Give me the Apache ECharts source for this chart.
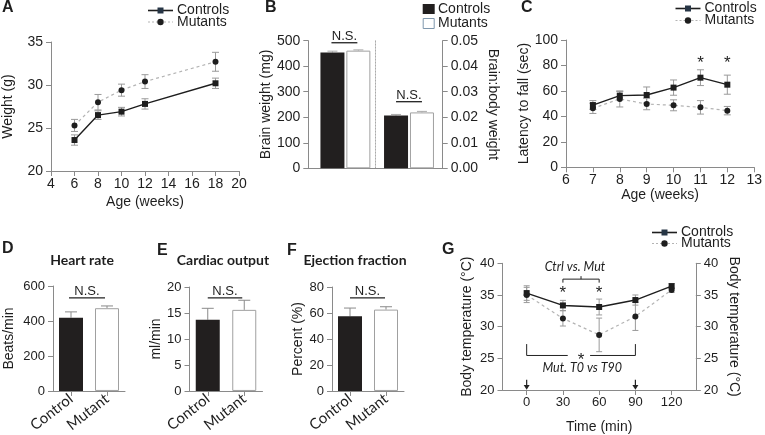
<!DOCTYPE html>
<html><head><meta charset="utf-8">
<script src="https://cdn.jsdelivr.net/npm/echarts@6/dist/echarts.min.js"></script>
<style>html,body{margin:0;padding:0;background:#fff}#c{width:765px;height:435px}</style>
</head><body><div id="c"></div>
<script>
// ---------------- DATA ----------------
// A: body weight
const weeksA = [6, 8, 10, 12, 18];
const weightControls = [23.6, 26.5, 26.9, 27.8, 30.2];
const weightControlsErr = [0.6, 0.5, 0.5, 0.6, 0.6];
const weightMutants = [25.3, 28.0, 29.4, 30.4, 32.7];
const weightMutantsErr = [0.7, 0.9, 0.7, 0.8, 1.1];
// B: brain weight (mg) and brain:body weight ratio
const brainCategories = ['Brain weight', 'Brain:body weight'];
const brainControls = [454, 0.0207];
const brainControlsErr = [5, 0.0004];
const brainMutants = [461, 0.0219];
const brainMutantsErr = [3, 0.0004];
// C: rotarod latency
const weeksC = [7, 8, 9, 10, 11, 12];
const latencyControls = [48.9, 56.3, 56.8, 62.6, 70.4, 64.9];
const latencyControlsErr = [3.5, 3.3, 6.3, 6.0, 6.2, 7.5];
const latencyMutants = [46.3, 53.7, 49.7, 48.7, 47.1, 44.5];
const latencyMutantsErr = [4.0, 6.3, 4.5, 4.3, 5.3, 3.3];
const latencySignificant = [11, 12];
// D-F: cardiac
const groups = ['Control', 'Mutant'];
const heartRate = [419, 473];
const heartRateErr = [33, 13];
const cardiacOutput = [13.7, 15.6];
const cardiacOutputErr = [2.2, 1.85];
const ejectionFraction = [57.4, 62.6];
const ejectionFractionErr = [6.4, 2.2];
// G: body temperature
const timeG = [0, 30, 60, 90, 120];
const timeTicks = [0, 30, 60, 90, 120];
const tempControls = [35.3, 33.35, 33.1, 34.2, 36.4];
const tempControlsErr = [1.15, 0.8, 1.25, 0.8, 0.4];
const tempMutants = [35.0, 31.3, 28.7, 31.6, 35.8];
const tempMutantsErr = [1.2, 1.2, 2.65, 2.2, 0.4];
const tempSignificant = [30, 60];

// ---------------- STYLE ----------------
const FONT = "'Liberation Sans', Arial, sans-serif";
const AX = '#8a8a8a', TXT = '#1e1e1e', ERR = '#9a9a9a';
const CTRL = '#1e1e1e';
const ctrlBar = {color: '#221f1f'};
const mutBar = {color: '#ffffff', borderColor: '#a0a0a0', borderWidth: 1};

function merge(a, b) {
  const out = Object.assign({}, a);
  for (const k in b) {
    if (b[k] && typeof b[k] === 'object' && !Array.isArray(b[k]) && a[k] && typeof a[k] === 'object' && !Array.isArray(a[k])) out[k] = merge(a[k], b[k]);
    else out[k] = b[k];
  }
  return out;
}
function axis(fs, extra) {
  return merge({
    axisLine: {show: true, onZero: false, lineStyle: {color: AX, width: 1}},
    axisTick: {show: true, inside: false, length: 5, lineStyle: {color: AX, width: 1}},
    splitLine: {show: false},
    axisLabel: {color: TXT, fontFamily: FONT, fontSize: fs},
    nameLocation: 'middle',
    nameTextStyle: {color: TXT, fontFamily: FONT, fontSize: 14}
  }, extra);
}

function errSeries(xi, yi, xs, ys, es, opt) {
  opt = opt || {};
  const cap = opt.cap || 3, upOnly = !!opt.upOnly, dx = opt.dx || 0;
  return {
    type: 'custom', xAxisIndex: xi, yAxisIndex: yi, z: opt.z || 2, silent: true,
    data: xs.map((x, i) => [x, ys[i], es[i]]),
    encode: {x: 0, y: 1},
    renderItem: function (params, api) {
      const x = api.value(0), y = api.value(1), e = api.value(2);
      const t = api.coord([x, y + e]);
      const b = api.coord([x, upOnly ? y : y - e]);
      const cx = t[0] + dx;
      const st = {stroke: opt.color || ERR, lineWidth: 1};
      const ch = [
        {type: 'line', shape: {x1: cx, y1: t[1], x2: cx, y2: b[1]}, style: st},
        {type: 'line', shape: {x1: cx - cap, y1: t[1], x2: cx + cap, y2: t[1]}, style: st}
      ];
      if (!upOnly) ch.push({type: 'line', shape: {x1: cx - cap, y1: b[1], x2: cx + cap, y2: b[1]}, style: st});
      return {type: 'group', children: ch};
    }
  };
}
function pairs(xs, ys) { return xs.map((x, i) => [x, ys[i]]); }
function ctrlLine(xi, yi, xs, ys) {
  return {type: 'line', name: 'Controls', xAxisIndex: xi, yAxisIndex: yi, data: pairs(xs, ys), z: 5,
    symbol: 'rect', symbolSize: 6, itemStyle: {color: CTRL}, lineStyle: {color: CTRL, width: 1.4}};
}
function mutLine(xi, yi, xs, ys) {
  return {type: 'line', name: 'Mutants', xAxisIndex: xi, yAxisIndex: yi, data: pairs(xs, ys), z: 4,
    symbol: 'circle', symbolSize: 6, itemStyle: {color: CTRL}, lineStyle: {color: '#b4b4b4', width: 1.2, type: [3, 3]}};
}
function groupBars(xi, yi, vals) {
  return {type: 'bar', xAxisIndex: xi, yAxisIndex: yi, barWidth: 24, z: 3,
    data: vals.map((v, i) => ({value: v, itemStyle: i === 0 ? ctrlBar : mutBar}))};
}
const catLabel = {rotate: 38, margin: 6, fontFamily: 'Lato', fontSize: 15, interval: 0, hideOverlap: false};

const BW = 24, BGAP = 0.08, BOFF = BW * (1 + BGAP) / 2;

const option = {
  animation: false,
  backgroundColor: '#ffffff',
  grid: [
    {left: 47, top: 42, width: 192, height: 129},        // 0 A
    {left: 308.3, top: 40.7, width: 74.2, height: 127.6},// 1 B1
    {left: 375.3, top: 40.7, width: 67.4, height: 127.6},// 2 B2
    {left: 566, top: 40, width: 192, height: 127.3},     // 3 C
    {left: 53, top: 286, width: 72, height: 108},        // 4 D
    {left: 189.5, top: 287, width: 73, height: 107},     // 5 E
    {left: 332, top: 287, width: 72, height: 107},       // 6 F
    {left: 502.5, top: 263.3, width: 193.3, height: 128.4} // 7 G
  ],
  xAxis: [
    axis(14, {type: 'value', gridIndex: 0, min: 4, max: 20, interval: 2, name: 'Age (weeks)', nameGap: 24, axisLabel: {margin: 6}}),
    axis(14, {type: 'category', gridIndex: 1, data: [brainCategories[0]], axisTick: {show: false}, axisLabel: {show: false}}),
    axis(14, {type: 'category', gridIndex: 2, data: [brainCategories[1]], axisTick: {show: false}, axisLabel: {show: false}}),
    axis(14, {type: 'value', gridIndex: 3, min: 6, max: 13, interval: 1, name: 'Age (weeks)', nameGap: 21, axisLabel: {margin: 6}}),
    axis(13, {type: 'category', gridIndex: 4, data: groups, axisTick: {alignWithLabel: true}, axisLabel: catLabel}),
    axis(13, {type: 'category', gridIndex: 5, data: groups, axisTick: {alignWithLabel: true}, axisLabel: catLabel}),
    axis(13, {type: 'category', gridIndex: 6, data: groups, axisTick: {alignWithLabel: true}, axisLabel: catLabel}),
    axis(13, {type: 'value', gridIndex: 7, min: -20, max: 140, name: 'Time (min)', nameGap: 30,
      axisLabel: {customValues: timeTicks, margin: 6}, axisTick: {customValues: timeTicks}})
  ],
  yAxis: [
    axis(14, {type: 'value', gridIndex: 0, min: 20, max: 35, interval: 5, name: 'Weight (g)', nameGap: 36}),
    axis(14, {type: 'value', gridIndex: 1, min: 0, max: 500, interval: 100, name: 'Brain weight (mg)', nameGap: 31}),
    axis(14, {type: 'value', gridIndex: 2, position: 'right', min: 0, max: 0.05, interval: 0.01, name: 'Brain:body weight', nameRotate: -90, nameGap: 43,
      axisLabel: {formatter: v => v.toFixed(2)}}),
    {type: 'value', gridIndex: 2, position: 'left', min: 0, max: 0.05, axisLine: {show: true, onZero: false, lineStyle: {color: '#aaaaaa', type: [1.5, 1.5], width: 1}},
      axisTick: {show: false}, axisLabel: {show: false}, splitLine: {show: false}},
    axis(14, {type: 'value', gridIndex: 3, min: 0, max: 100, interval: 20, name: 'Latency to fall (sec)', nameGap: 32}),
    axis(13, {type: 'value', gridIndex: 4, min: 0, max: 600, interval: 200, name: 'Beats/min', nameGap: 37}),
    axis(13, {type: 'value', gridIndex: 5, min: 0, max: 20, interval: 5, name: 'ml/min', nameGap: 20}),
    axis(13, {type: 'value', gridIndex: 6, min: 0, max: 80, interval: 20, name: 'Percent (%)', nameGap: 27}),
    axis(13, {type: 'value', gridIndex: 7, min: 20, max: 40, interval: 5, name: 'Body temperature (°C)', nameGap: 28}),
    axis(13, {type: 'value', gridIndex: 7, position: 'right', min: 20, max: 40, interval: 5, name: 'Body temperature (°C)', nameRotate: -90, nameGap: 31})
  ],
  series: [
    // A
    errSeries(0, 0, weeksA, weightControls, weightControlsErr, {cap: 3.5}),
    errSeries(0, 0, weeksA, weightMutants, weightMutantsErr, {cap: 3.5}),
    ctrlLine(0, 0, weeksA, weightControls),
    mutLine(0, 0, weeksA, weightMutants),
    // B
    {type: 'bar', name: 'Controls', xAxisIndex: 1, yAxisIndex: 1, barWidth: BW, barGap: (BGAP * 100) + '%', data: [brainControls[0]], itemStyle: ctrlBar},
    {type: 'bar', name: 'Mutants', xAxisIndex: 1, yAxisIndex: 1, barWidth: BW, barGap: (BGAP * 100) + '%', data: [brainMutants[0]], itemStyle: mutBar},
    {type: 'bar', name: 'Controls', xAxisIndex: 2, yAxisIndex: 2, barWidth: BW, barGap: (BGAP * 100) + '%', data: [brainControls[1]], itemStyle: ctrlBar},
    {type: 'bar', name: 'Mutants', xAxisIndex: 2, yAxisIndex: 2, barWidth: BW, barGap: (BGAP * 100) + '%', data: [brainMutants[1]], itemStyle: mutBar},
    errSeries(1, 1, [0], [brainControls[0]], [brainControlsErr[0]], {cap: 5, upOnly: true, dx: -BOFF, color: '#aaaaaa'}),
    errSeries(1, 1, [0], [brainMutants[0]], [brainMutantsErr[0]], {cap: 5, upOnly: true, dx: BOFF, color: '#aaaaaa'}),
    errSeries(2, 2, [0], [brainControls[1]], [brainControlsErr[1]], {cap: 5, upOnly: true, dx: -BOFF, color: '#aaaaaa'}),
    errSeries(2, 2, [0], [brainMutants[1]], [brainMutantsErr[1]], {cap: 5, upOnly: true, dx: BOFF, color: '#aaaaaa'}),
    // C
    errSeries(3, 4, weeksC, latencyControls, latencyControlsErr, {cap: 3.5}),
    errSeries(3, 4, weeksC, latencyMutants, latencyMutantsErr, {cap: 3.5}),
    ctrlLine(3, 4, weeksC, latencyControls),
    mutLine(3, 4, weeksC, latencyMutants),
    // D-F
    groupBars(4, 5, heartRate),
    errSeries(4, 5, [0, 1], heartRate, heartRateErr, {cap: 6, upOnly: true, color: '#8a8a8a'}),
    groupBars(5, 6, cardiacOutput),
    errSeries(5, 6, [0, 1], cardiacOutput, cardiacOutputErr, {cap: 6, upOnly: true, color: '#8a8a8a'}),
    groupBars(6, 7, ejectionFraction),
    errSeries(6, 7, [0, 1], ejectionFraction, ejectionFractionErr, {cap: 6, upOnly: true, color: '#8a8a8a'}),
    // G
    errSeries(7, 8, timeG, tempControls, tempControlsErr, {cap: 3}),
    errSeries(7, 8, timeG, tempMutants, tempMutantsErr, {cap: 3}),
    ctrlLine(7, 8, timeG, tempControls),
    mutLine(7, 8, timeG, tempMutants)
  ]
};

const chart = echarts.init(document.getElementById('c'), null, {renderer: 'canvas'});
chart.setOption(option);

// ---------------- ANNOTATIONS ----------------
const G = [];
const P = (xi, yi, x, y) => chart.convertToPixel({xAxisIndex: xi, yAxisIndex: yi}, [x, y]);
const L = (x1, y1, x2, y2, o) => G.push({type: 'line', silent: true, z: 10, shape: {x1, y1, x2, y2}, style: Object.assign({stroke: '#222', lineWidth: 1}, o || {})});
const T = (x, y, text, o) => G.push({type: 'text', silent: true, z: 10, x, y, style: Object.assign({text, fill: TXT, fontFamily: FONT, fontSize: 14, align: 'center', verticalAlign: 'middle'}, o || {})});

// panel letters
[['A', 2, 8], ['B', 265, 7.5], ['C', 521, 8], ['D', 2, 249], ['E', 157, 251], ['F', 287, 251], ['G', 442, 250]]
  .forEach(([s, x, y]) => T(x, y, s, {align: 'left', fontWeight: 'bold', fontSize: 16}));
// titles
[['Heart rate', 82, 260], ['Cardiac output', 223, 260.5], ['Ejection fraction', 355, 260.5]]
  .forEach(([s, x, y]) => T(x, y, s, {fontFamily: 'Lato', fontWeight: 'bold', fontSize: 14}));

// legends (line style)
function lineLegend(x0, y1, y2, fs) {
  L(x0, y1, x0 + 25, y1, {stroke: CTRL, lineWidth: 1.6});
  G.push({type: 'rect', silent: true, z: 10, shape: {x: x0 + 9.5, y: y1 - 3, width: 6, height: 6}, style: {fill: '#263545'}});
  T(x0 + 29, y1, 'Controls', {align: 'left', fontSize: fs});
  L(x0, y2, x0 + 25, y2, {stroke: '#b4b4b4', lineWidth: 1.2, lineDash: [2, 2]});
  G.push({type: 'circle', silent: true, z: 10, shape: {cx: x0 + 12.5, cy: y2, r: 3.2}, style: {fill: CTRL}});
  T(x0 + 29, y2, 'Mutants', {align: 'left', fontSize: fs});
}
lineLegend(148, 10.5, 22, 14);
lineLegend(675.5, 8.5, 20.5, 14);
lineLegend(652, 232.5, 243.5, 14);
// bar legend B
G.push({type: 'rect', silent: true, z: 10, shape: {x: 422.7, y: 4, width: 12, height: 10}, style: {fill: '#221f1f'}});
T(438, 9, 'Controls', {align: 'left'});
G.push({type: 'rect', silent: true, z: 10, shape: {x: 423.2, y: 18.5, width: 11, height: 10}, style: {fill: '#fff', stroke: '#7f97ad', lineWidth: 1}});
T(438, 23.5, 'Mutants', {align: 'left'});

// N.S. annotations
function ns(xi, yi, xa, xb, yv, dxa, dxb) {
  const a = P(xi, yi, xa, yv), b = P(xi, yi, xb, yv);
  L(a[0] + dxa, a[1], b[0] + dxb, b[1], {stroke: '#222', lineWidth: 1.3});
  T((a[0] + dxa + b[0] + dxb) / 2, a[1] + 0.5, 'N.S.', {verticalAlign: 'bottom', fontSize: 13});
}
ns(1, 1, 0, 0, 492, -BOFF - 1, BOFF - 1);
ns(2, 2, 0, 0, 0.0261, -BOFF, BOFF);
ns(4, 5, 0, 1, 532, -2, -2);
ns(5, 6, 0, 1, 17.9, 0, -2);
ns(6, 7, 0, 1, 71.6, 0, -1);

// asterisks
const star = (p) => T(p[0], p[1] + 4, '*', {fontSize: 17});
latencySignificant.forEach(x => star(P(3, 4, x, 84.8)));
tempSignificant.forEach(x => star(P(7, 8, x, 35.85)));

// G upper bracket
{
  const a = P(7, 8, 30, 37.5), b = P(7, 8, 60, 37.5), c = P(7, 8, 45, 37.5);
  L(a[0], a[1], b[0], b[1]);
  L(a[0], a[1], a[0], a[1] + 3.5);
  L(b[0], b[1], b[0], b[1] + 3.5);
  L(c[0], c[1], c[0], c[1] - 3);
  const t = P(7, 8, 40, 39.4);
  T(t[0], t[1], 'Ctrl vs. Mut', {fontFamily: 'Lato', fontStyle: 'italic', fontSize: 12.5});
}
// G lower bracket
{
  const a = P(7, 8, 0, 25.45), b = P(7, 8, 90, 25.45);
  const a0 = P(7, 8, 0, 27.25), b0 = P(7, 8, 90, 27.25);
  const g1 = P(7, 8, 34, 25.45), g2 = P(7, 8, 52.5, 25.45);
  L(a0[0], a0[1], a[0], a[1]);
  L(b0[0], b0[1], b[0], b[1]);
  L(a[0], a[1], g1[0], g1[1]);
  L(g2[0], g2[1], b[0], b[1]);
  star(P(7, 8, 45, 25.3));
  const t = P(7, 8, 46, 23.4);
  T(t[0], t[1], 'Mut. T0 vs T90', {fontFamily: 'Lato', fontStyle: 'italic', fontSize: 12.5});
}
// arrows at drug injection times
[0, 90].forEach(x => {
  const top = P(7, 8, x, 21.6), tip = P(7, 8, x, 20.05), base = P(7, 8, x, 20.8);
  L(top[0], top[1], base[0], base[1], {stroke: '#222', lineWidth: 1.2});
  G.push({type: 'polygon', silent: true, z: 10, shape: {points: [[tip[0] - 3, base[1]], [tip[0] + 3, base[1]], [tip[0], tip[1]]]}, style: {fill: '#222'}});
});

chart.setOption({graphic: {elements: G}});
</script></body></html>
